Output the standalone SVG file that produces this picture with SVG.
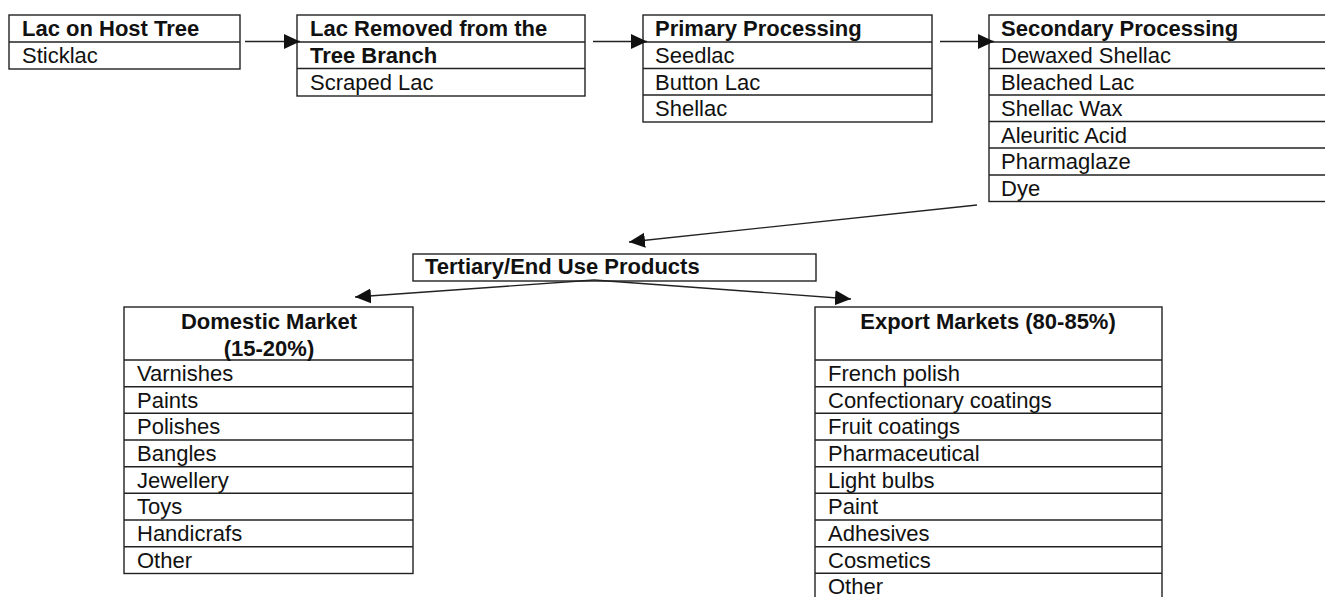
<svg xmlns="http://www.w3.org/2000/svg" width="1325" height="597" viewBox="0 0 1325 597">
  <style>
    .box { fill: #fff; stroke: #222; stroke-width: 1.4; }
    .rule { stroke: #222; stroke-width: 1.4; }
    .conn { stroke: #222; stroke-width: 1.4; fill: none; marker-end: url(#arrow); }
    text { font-family: "Liberation Sans", Arial, sans-serif; font-size: 22px; fill: #111; }
    .h { font-weight: bold; }
    .c { text-anchor: middle; }
  </style>
  <defs>
    <marker id="arrow" markerUnits="userSpaceOnUse" markerWidth="16" markerHeight="16" refX="16" refY="8" orient="auto">
      <polygon points="0,0.5 16,8 0,15.5" fill="#111"/>
    </marker>
  </defs>
  <rect width="1325" height="597" fill="#fff"/>

  <!-- Stage 1 -->
  <g id="host-tree">
    <rect class="box" x="9" y="15" width="231" height="54"/>
    <line class="rule" x1="9" y1="42" x2="240" y2="42"/>
    <text class="h" x="22" y="36">Lac on Host Tree</text>
    <text x="22" y="63">Sticklac</text>
  </g>

  <!-- Stage 2 -->
  <g id="removed">
    <rect class="box" x="297" y="15" width="288" height="81"/>
    <line class="rule" x1="297" y1="42" x2="585" y2="42"/>
    <line class="rule" x1="297" y1="68.5" x2="585" y2="68.5"/>
    <text class="h" x="310" y="36">Lac Removed from the</text>
    <text class="h" x="310" y="63">Tree Branch</text>
    <text x="310" y="90">Scraped Lac</text>
  </g>

  <!-- Stage 3 -->
  <g id="primary">
    <rect class="box" x="643" y="15" width="289" height="107"/>
    <line class="rule" x1="643" y1="42" x2="932" y2="42"/>
    <line class="rule" x1="643" y1="68.5" x2="932" y2="68.5"/>
    <line class="rule" x1="643" y1="95" x2="932" y2="95"/>
    <text class="h" x="655" y="36">Primary Processing</text>
    <text x="655" y="63">Seedlac</text>
    <text x="655" y="89.5">Button Lac</text>
    <text x="655" y="116">Shellac</text>
  </g>

  <!-- Stage 4 -->
  <g id="secondary">
    <rect class="box" x="989" y="15" width="345" height="186.5"/>
    <line class="rule" x1="989" y1="42" x2="1330" y2="42"/>
    <line class="rule" x1="989" y1="68.5" x2="1330" y2="68.5"/>
    <line class="rule" x1="989" y1="95" x2="1330" y2="95"/>
    <line class="rule" x1="989" y1="121.5" x2="1330" y2="121.5"/>
    <line class="rule" x1="989" y1="148" x2="1330" y2="148"/>
    <line class="rule" x1="989" y1="175" x2="1330" y2="175"/>
    <text class="h" x="1001" y="36">Secondary Processing</text>
    <text x="1001" y="63">Dewaxed Shellac</text>
    <text x="1001" y="89.5">Bleached Lac</text>
    <text x="1001" y="116">Shellac Wax</text>
    <text x="1001" y="142.5">Aleuritic Acid</text>
    <text x="1001" y="169">Pharmaglaze</text>
    <text x="1001" y="196">Dye</text>
  </g>

  <!-- Tertiary -->
  <g id="tertiary">
    <rect class="box" x="413" y="254" width="403" height="27"/>
    <text class="h" x="425" y="274">Tertiary/End Use Products</text>
  </g>

  <!-- Domestic market -->
  <g id="domestic">
    <rect class="box" x="124" y="307" width="289" height="266.5"/>
    <line class="rule" x1="124" y1="360" x2="413" y2="360"/>
    <line class="rule" x1="124" y1="386.7" x2="413" y2="386.7"/>
    <line class="rule" x1="124" y1="413.3" x2="413" y2="413.3"/>
    <line class="rule" x1="124" y1="440" x2="413" y2="440"/>
    <line class="rule" x1="124" y1="466.7" x2="413" y2="466.7"/>
    <line class="rule" x1="124" y1="493.3" x2="413" y2="493.3"/>
    <line class="rule" x1="124" y1="520" x2="413" y2="520"/>
    <line class="rule" x1="124" y1="546.7" x2="413" y2="546.7"/>
    <text class="h c" x="269" y="329">Domestic Market</text>
    <text class="h c" x="269" y="356">(15-20%)</text>
    <text x="137" y="381">Varnishes</text>
    <text x="137" y="407.5">Paints</text>
    <text x="137" y="434">Polishes</text>
    <text x="137" y="461">Bangles</text>
    <text x="137" y="487.5">Jewellery</text>
    <text x="137" y="514">Toys</text>
    <text x="137" y="541">Handicrafs</text>
    <text x="137" y="567.5">Other</text>
  </g>

  <!-- Export markets -->
  <g id="export">
    <rect class="box" x="815" y="307" width="347" height="300"/>
    <line class="rule" x1="815" y1="360" x2="1162" y2="360"/>
    <line class="rule" x1="815" y1="386.7" x2="1162" y2="386.7"/>
    <line class="rule" x1="815" y1="413.3" x2="1162" y2="413.3"/>
    <line class="rule" x1="815" y1="440" x2="1162" y2="440"/>
    <line class="rule" x1="815" y1="466.7" x2="1162" y2="466.7"/>
    <line class="rule" x1="815" y1="493.3" x2="1162" y2="493.3"/>
    <line class="rule" x1="815" y1="520" x2="1162" y2="520"/>
    <line class="rule" x1="815" y1="546.7" x2="1162" y2="546.7"/>
    <line class="rule" x1="815" y1="573.3" x2="1162" y2="573.3"/>
    <text class="h c" x="988" y="329">Export Markets (80-85%)</text>
    <text x="828" y="381">French polish</text>
    <text x="828" y="407.5">Confectionary coatings</text>
    <text x="828" y="434">Fruit coatings</text>
    <text x="828" y="461">Pharmaceutical</text>
    <text x="828" y="487.5">Light bulbs</text>
    <text x="828" y="514">Paint</text>
    <text x="828" y="541">Adhesives</text>
    <text x="828" y="567.5">Cosmetics</text>
    <text x="828" y="594">Other</text>
  </g>

  <!-- Connectors -->
  <g id="connectors">
    <line class="conn" x1="245" y1="41.5" x2="300" y2="41.5"/>
    <line class="conn" x1="593" y1="41.5" x2="647" y2="41.5"/>
    <line class="conn" x1="940" y1="41.5" x2="994" y2="41.5"/>
    <line class="conn" x1="977" y1="205" x2="629" y2="242"/>
    <line class="conn" x1="594" y1="280" x2="355" y2="297"/>
    <line class="conn" x1="594" y1="280" x2="851" y2="299"/>
  </g>
</svg>
